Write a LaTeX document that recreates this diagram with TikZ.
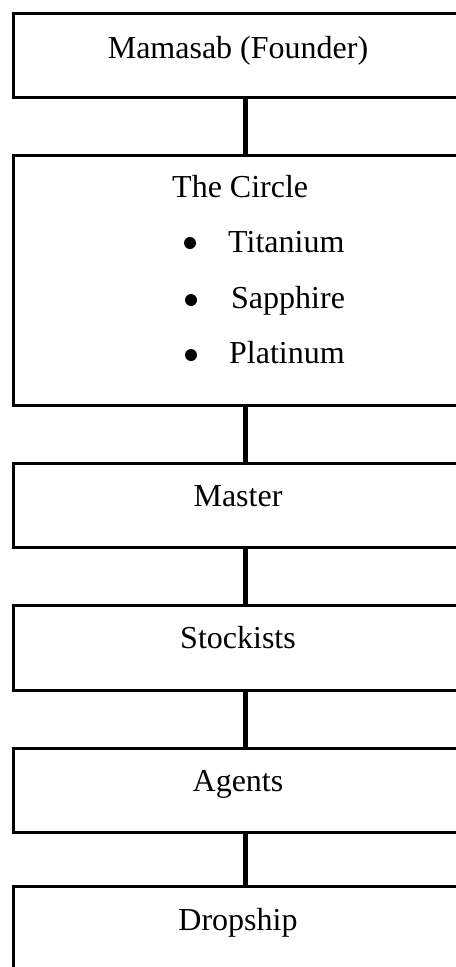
\documentclass[tikz,border=0pt]{standalone}
\usepackage{fontspec}
\setmainfont{Liberation Serif}
\begin{document}
\begin{tikzpicture}[x=1bp,y=-1bp,
  box/.style={draw=black,line width=3bp,minimum width=464bp,inner sep=0pt,anchor=north west},
  lbl/.style={inner sep=0pt,anchor=base,font=\fontsize{32bp}{38bp}\selectfont},
  lblw/.style={inner sep=0pt,anchor=base west,font=\fontsize{32bp}{38bp}\selectfont},
  link/.style={draw=black,line width=5bp},
  dot/.style={circle,fill=black,inner sep=0pt,minimum size=12bp}]
\useasboundingbox (0,0) rectangle (456,967);
\clip (0,0) rectangle (456,967);
\node[box,minimum height=84bp] (b1) at (12,12) {};
\node[box,minimum height=250bp] (b2) at (12,154) {};
\node[box,minimum height=84bp] (b3) at (12,462) {};
\node[box,minimum height=85bp] (b4) at (12,604) {};
\node[box,minimum height=84bp] (b5) at (12,747) {};
\node[box,minimum height=100bp] (b6) at (12,885) {};
\draw[link] (b1.south) -- (b2.north);
\draw[link] (b2.south) -- (b3.north);
\draw[link] (b3.south) -- (b4.north);
\draw[link] (b4.south) -- (b5.north);
\draw[link] (b5.south) -- (b6.north);
\node[lbl] (t1) at (238,58) {Mamasab (Founder)};
\node[lblw] (t2) at (172,197) {The Circle};
\node[dot] (d1) at (190,243) {};
\node[lblw] (t21) at (228,252) {Titanium};
\node[dot] (d2) at (191,300) {};
\node[lblw] (t22) at (231,308) {Sapphire};
\node[dot] (d3) at (191,355) {};
\node[lblw] (t23) at (229,363) {Platinum};
\node[lbl] (t3) at (238,506) {Master};
\node[lbl] (t4) at (238,648) {Stockists};
\node[lbl] (t5) at (238,791) {Agents};
\node[lbl] (t6) at (238,930) {Dropship};
\end{tikzpicture}
\end{document}
